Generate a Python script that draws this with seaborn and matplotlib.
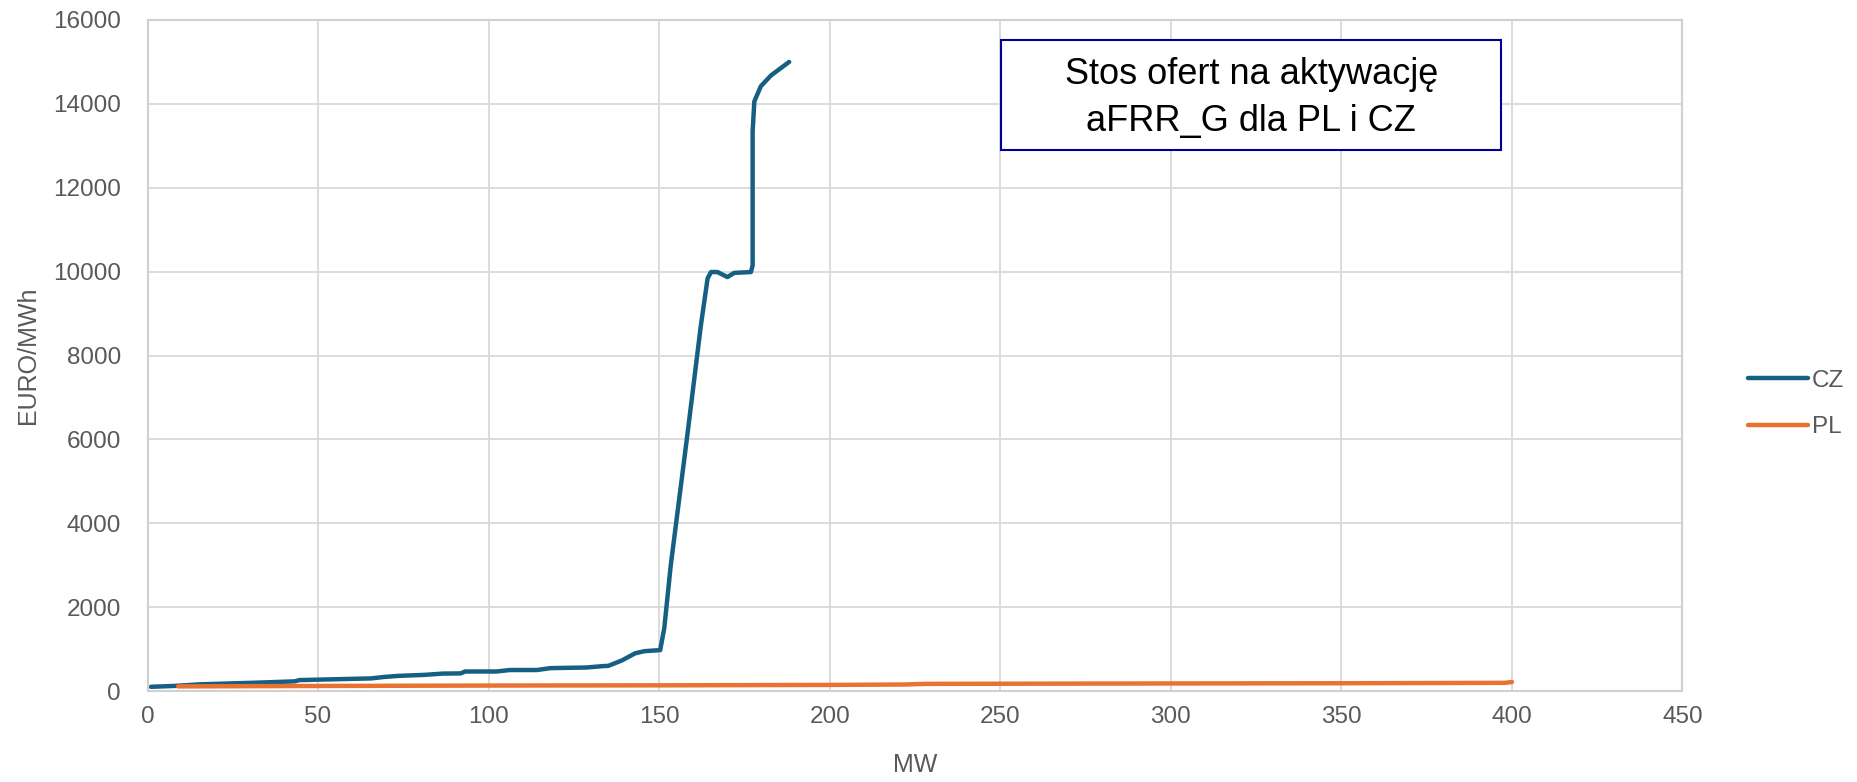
import numpy as np
import pandas as pd
import matplotlib
matplotlib.use("Agg")
import matplotlib.pyplot as plt
from matplotlib.patches import Rectangle
import seaborn as sns

# ---- data ----
cz_mw = [1, 7.7, 15.6, 32.6, 43.2, 44.5, 65.5, 69.4, 73.4, 81.3, 86.5, 91.8, 93.1,
         102.3, 106.2, 114.1, 118.1, 128.6, 133.8, 135.1, 139.1, 143.0, 145.7, 150.3,
         151.5, 153.4, 158.3, 162.2, 164.2, 165.2, 167.1, 170.0, 172.0, 176.9, 177.4,
         177.4, 177.9, 179.8, 182.8, 188.1]
cz_eur = [100, 120, 160, 200, 230, 260, 300, 335, 360, 385, 415, 420, 465,
          465, 500, 500, 545, 560, 595, 600, 730, 900, 950, 975,
          1500, 3000, 6130, 8700, 9840, 9990, 9990, 9870, 9970, 9990, 10150,
          13340, 14060, 14420, 14680, 15000]
pl_mw = [9, 50, 100, 150, 200, 222, 228, 300, 350, 398, 400]
pl_eur = [110, 120, 130, 135, 145, 155, 170, 180, 185, 195, 215]

series_names = ["CZ", "PL"]
x_ticks = [0, 50, 100, 150, 200, 250, 300, 350, 400, 450]
y_ticks = [0, 2000, 4000, 6000, 8000, 10000, 12000, 14000, 16000]
title_lines = ["Stos ofert na aktywację", "aFRR_G dla PL i CZ"]
x_label = "MW"
y_label = "EURO/MWh"

df = pd.concat([
    pd.DataFrame({"MW": cz_mw, "EUR": cz_eur, "seria": series_names[0]}),
    pd.DataFrame({"MW": pl_mw, "EUR": pl_eur, "seria": series_names[1]}),
], ignore_index=True)

sns.set_theme(style="white")
plt.rcParams["font.family"] = ["Liberation Sans", "DejaVu Sans"]

grey = "#595959"
fs = 17.5
fig = plt.figure(figsize=(18.57, 7.82), dpi=100)
ax = fig.add_axes([147.5 / 1857, 91 / 782, 1535 / 1857, 671 / 782])

sns.lineplot(data=df, x="MW", y="EUR", hue="seria", estimator=None, sort=False,
             palette={"CZ": "#156082", "PL": "#E97132"}, linewidth=3.2, ax=ax,
             legend=True)

ax.set_xlim(0, 450)
ax.set_ylim(0, 16000)
ax.set_xticks(x_ticks)
ax.set_yticks(y_ticks)
ax.set_xticklabels([str(t) for t in x_ticks])
ax.set_yticklabels([str(t) for t in y_ticks])
ax.grid(True, color="#D9D9D9", linewidth=1.3)
ax.set_axisbelow(True)
for s in ax.spines.values():
    s.set_color("#D0D0D0")
    s.set_linewidth(1.5)
ax.tick_params(axis="both", length=0, colors=grey, labelsize=fs)
ax.tick_params(axis="y", pad=19)
ax.tick_params(axis="x", pad=11)

ax.set_xlabel(x_label, fontsize=18, color=grey)
ax.set_ylabel(y_label, fontsize=18, color=grey)
ax.xaxis.set_label_coords(0.5, -0.092)
ax.yaxis.set_label_coords(-0.070, 0.5)

# title box
ax.add_patch(Rectangle((0.556, 0.806), 0.326, 0.164, transform=ax.transAxes,
                       facecolor="white", edgecolor="#000099", linewidth=1.5, zorder=5))
ax.text(0.719, (691 - 74) / 671, title_lines[0], transform=ax.transAxes, ha="center",
        va="center", fontsize=26, color="black", zorder=6)
ax.text(0.719, (691 - 121) / 671, title_lines[1], transform=ax.transAxes, ha="center",
        va="center", fontsize=26, color="black", zorder=6)

handles, labels = ax.get_legend_handles_labels()
ax.legend_.remove()
leg = fig.legend(handles, labels, loc="center left", bbox_to_anchor=(1748 / 1857, 1 - 404 / 782),
                 frameon=False, fontsize=fs, handlelength=2.47, handletextpad=0.16,
                 borderpad=0, borderaxespad=0, labelspacing=1.0)
for t in leg.get_texts():
    t.set_color(grey)

fig.savefig("out.png", dpi=100)
